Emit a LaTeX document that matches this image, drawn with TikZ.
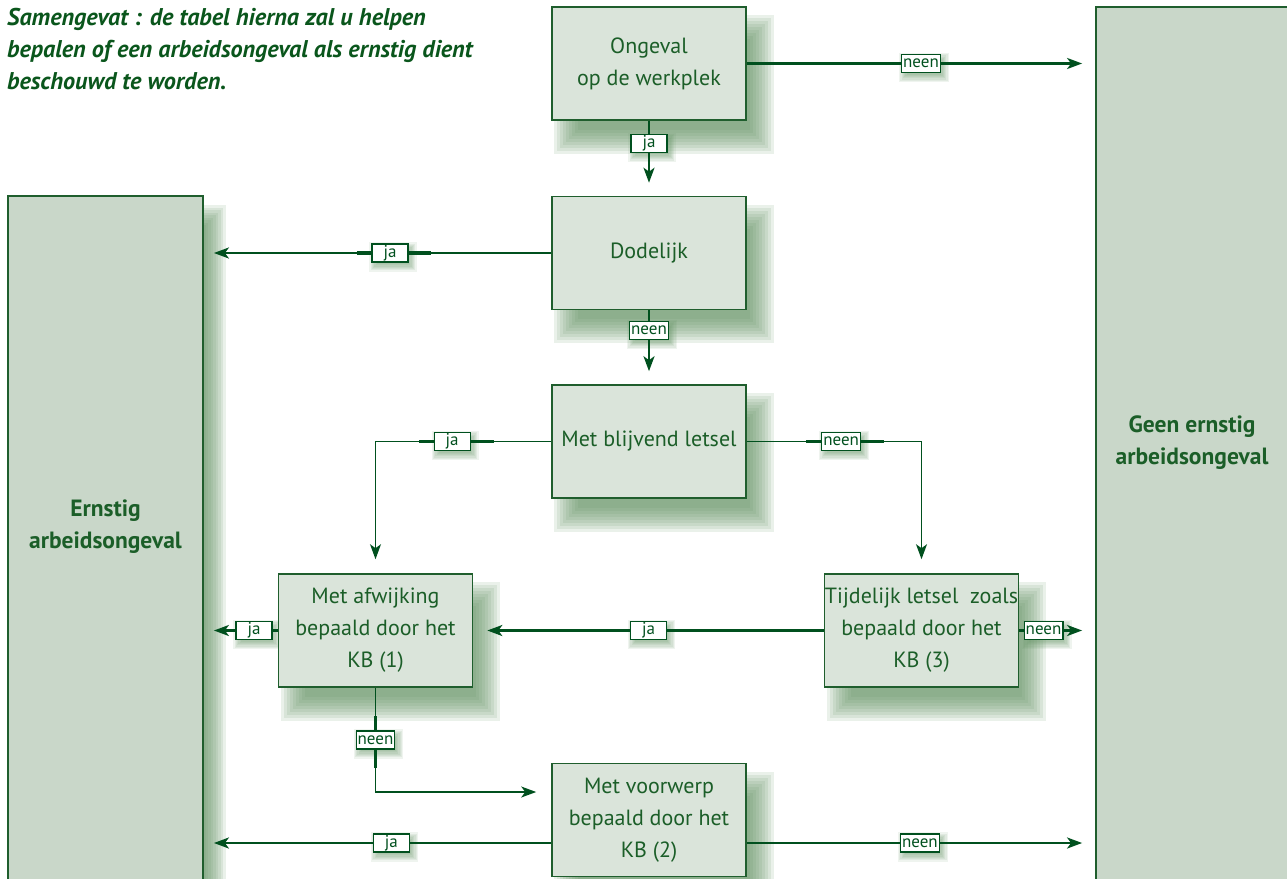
\documentclass[tikz,border=0pt]{standalone}
\usepackage{fontspec}
\setmainfont{PT Sans}
\usetikzlibrary{arrows.meta,backgrounds,calc}
\definecolor{boxfill}{HTML}{DAE4DA}
\definecolor{bigfill}{HTML}{C9D7C9}
\definecolor{bordergreen}{HTML}{1F5E2D}
\definecolor{arrowgreen}{HTML}{00501E}
\definecolor{textgreen}{HTML}{1B5E28}
\definecolor{titlegreen}{HTML}{0A561C}
\definecolor{shadowc}{HTML}{5F8F5F}
\newcommand\dropsh[5]{%
  \foreach \k in {-4,...,4}{%
    \fill[shadowc, opacity=#5]
      ([xshift={(#2+\k*#4/4)*1pt}, yshift={(-#3-\k*#4/4)*1pt}]#1.north west) rectangle
      ([xshift={(#2-\k*#4/4)*1pt}, yshift={(-#3+\k*#4/4)*1pt}]#1.south east);
  }}
\tikzset{
  smallbox/.style={draw=bordergreen, line width=1.6pt, fill=boxfill, minimum width=194pt,
    minimum height=113pt, inner sep=0pt, align=center, text=textgreen,
    font=\fontsize{22}{32}\selectfont},
  bigbox/.style={draw=bordergreen, line width=1.8pt, fill=bigfill, inner sep=0pt},
  bigtext/.style={align=center, text=textgreen, font=\fontsize{23.5}{32}\selectfont\bfseries},
  lab/.style={draw=arrowgreen, fill=white, line width=1.2pt, inner xsep=1.5pt, inner ysep=0pt,
    minimum width=36pt, minimum height=18pt, text=arrowgreen, font=\fontsize{17}{17}\selectfont},
  conn/.style={draw=arrowgreen, line width=2.4pt, -{Stealth[length=15pt,width=11pt,inset=4pt]}},
  thinconn/.style={conn, line width=1.3pt},
  thickseg/.style={draw=arrowgreen, line width=3.6pt},
}
\begin{document}
\begin{tikzpicture}[x=1pt,y=-1pt]
\useasboundingbox (0,0) rectangle (1287,878);
% title
\node[anchor=north west, inner sep=0pt, align=left, text=titlegreen,
  font=\fontsize{24.2}{32}\selectfont\bfseries\itshape] (title) at (7,8)
  {Samengevat : de tabel hierna zal u helpen\\bepalen of een arbeidsongeval als ernstig dient\\beschouwd te worden.};
% big boxes
\node[bigbox, minimum width=195pt, minimum height=720pt] (ernst) at (105.5,556) {};
\node[bigbox, minimum width=210pt, minimum height=900pt] (geen) at (1201,457) {};
\node[bigtext] (ernsttxt) at (105.5,527) {Ernstig\\arbeidsongeval};
\node[bigtext] (geentxt) at (1192,443) {Geen ernstig\\arbeidsongeval};
% decision boxes
\node[smallbox] (ong) at (649,63.5) {Ongeval\\op de werkplek};
\node[smallbox] (dod) at (649,253) {Dodelijk};
\node[smallbox] (blijv) at (649,441.5) {Met blijvend letsel};
\node[smallbox] (afw) at (375.5,630.5) {Met afwijking\\bepaald door het\\KB (1)};
\node[smallbox] (tijd) at (921.5,630.5) {Tijdelijk letsel\ \ zoals\\bepaald door het\\KB (3)};
\node[smallbox] (voorw) at (649,820) {Met voorwerp\\bepaald door het\\KB (2)};
% connectors
\draw[conn, shorten >=13pt] (ong.east) -- node[lab, pos=0.5] (l1) {neen} (ong.east -| geen.west);
\draw[conn, shorten >=13pt] (ong.south) -- node[lab, pos=0.3] (l2) {ja} (dod.north);
\draw[conn, shorten >=10pt] (dod.west) -- node[lab, pos=0.464] (l3) {ja} (dod.west -| ernst.east);
\draw[conn, shorten >=13pt] (dod.south) -- node[lab, pos=0.27] (l4) {neen} (blijv.north);
\draw[thinconn, shorten >=14pt] (blijv.west) -| node[lab, pos=0.282] (l5) {ja} (afw.north);
\draw[thinconn, shorten >=14pt] (blijv.east) -| node[lab, pos=0.27] (l6) {neen} (tijd.north);
\draw[conn, shorten >=14pt] (tijd.west) -- node[lab, pos=0.5] (l7) {ja} (afw.east);
\draw[conn, shorten >=10pt] (afw.west) -- node[lab, pos=0.32] (l8) {ja} (afw.west -| ernst.east);
\draw[conn, shorten >=13pt] (tijd.east) -- node[lab, pos=0.32] (l9) {neen} (tijd.east -| geen.west);
\draw[thinconn, shorten >=15pt] (afw.south) |- node[lab, pos=0.25] (l10) {neen} ([yshift=28pt]voorw.west);
\draw[conn, shorten >=10pt] ([yshift=-23pt]voorw.west) -- node[lab, pos=0.46] (l11) {ja} ([yshift=-23pt]voorw.west -| ernst.east);
\draw[conn, shorten >=13pt] ([yshift=-23pt]voorw.east) -- node[lab, pos=0.497] (l12) {neen} ([yshift=-23pt]voorw.east -| geen.west);
% thicker segments beside labels
\draw[thickseg] (l3.west) -- ++(-14,0);
\draw[thickseg] (l3.east) -- ++(22,0);
\draw[thickseg] (l5.west) -- ++(-15,0);
\draw[thickseg] (l5.east) -- ++(23,0);
\draw[thickseg] (l6.west) -- ++(-15,0);
\draw[thickseg] (l6.east) -- ++(23,0);
\draw[thickseg] (l7.west) -- ++(-12,0);
\draw[thickseg] (l7.east) -- ++(20,0);
\draw[thickseg] (l10.north) -- ++(0,-14);
\draw[thickseg] (l10.south) -- ++(0,18);
% shadows
\begin{scope}[on background layer]
  \dropsh{ernst}{12}{20}{10}{0.13}
  \foreach \n in {ong,dod,blijv,afw,tijd,voorw}{\dropsh{\n}{15}{21}{12}{0.13}}
  \foreach \n in {l1,l2,l3,l4,l5,l6,l7,l8,l9,l10,l11,l12}{\dropsh{\n}{3}{4}{5}{0.1}}
\end{scope}
\end{tikzpicture}
\end{document}
